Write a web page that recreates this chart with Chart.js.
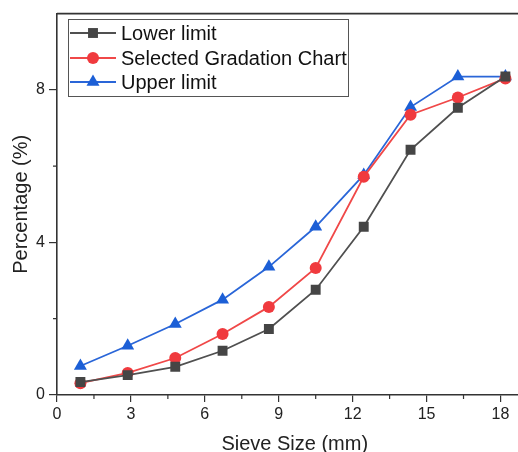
<!DOCTYPE html>
<html>
<head>
<meta charset="utf-8">
<script src="https://cdn.jsdelivr.net/npm/chart.js@4/dist/chart.umd.min.js"></script>
<style>
  html, body { margin: 0; padding: 0; background: #fff; overflow: hidden; }
  #wrap { width: 540px; height: 452px; }
</style>
</head>
<body>
<div id="wrap"><canvas id="gradationChart" width="540" height="452"></canvas></div>
<script>
// Значения
const sieveSizes = [0.95, 2.87, 4.8, 6.72, 8.6, 10.5, 12.45, 14.35, 16.27, 18.2];
const lowerLimit = [0.34, 0.52, 0.74, 1.16, 1.73, 2.76, 4.41, 6.43, 7.53, 8.35];
const selectedGradation = [0.31, 0.58, 0.97, 1.6, 2.31, 3.33, 5.72, 7.35, 7.8, 8.3];
const upperLimit = [0.76, 1.29, 1.86, 2.5, 3.36, 4.41, 5.77, 7.55, 8.35, 8.35];
const xTicks = [0, 3, 6, 9, 12, 15, 18];
const yTicks = [0, 4, 8];

const axisColor = '#333';
const fontFamily = '"Liberation Sans", Arial, sans-serif';

function toPoints(values) {
    return values.map((v, i) => ({ x: sieveSizes[i], y: v }));
}

// Рамка сверху, мелкие деления и легенда
const framePlugin = {
    id: 'frame',
    afterDraw(chart) {
        const { ctx, chartArea, scales } = chart;
        ctx.save();
        ctx.strokeStyle = axisColor;
        ctx.lineWidth = 1.6;
        ctx.beginPath();
        ctx.moveTo(chartArea.left, chartArea.top);
        ctx.lineTo(chartArea.right, chartArea.top);
        ctx.stroke();

        // мелкие деления
        ctx.lineWidth = 1.2;
        ctx.beginPath();
        for (let v = 1.5; v < scales.x.max; v += 3) {
            const px = scales.x.getPixelForValue(v);
            ctx.moveTo(px, chartArea.bottom);
            ctx.lineTo(px, chartArea.bottom + 4);
        }
        for (let v = 2; v < scales.y.max; v += 4) {
            const py = scales.y.getPixelForValue(v);
            ctx.moveTo(chartArea.left, py);
            ctx.lineTo(chartArea.left - 4, py);
        }
        ctx.stroke();

        // легенда
        const box = { x: 68, y: 19, w: 280, h: 77 };
        ctx.lineWidth = 1;
        ctx.strokeStyle = '#555';
        ctx.strokeRect(box.x + 0.5, box.y + 0.5, box.w, box.h);
        const rows = [33, 58, 82];
        chart.data.datasets.forEach((ds, i) => {
            const y = rows[i];
            ctx.strokeStyle = ds.borderColor;
            ctx.lineWidth = ds.borderWidth;
            ctx.beginPath();
            ctx.moveTo(70, y);
            ctx.lineTo(116, y);
            ctx.stroke();
            ctx.fillStyle = ds.backgroundColor;
            Chart.helpers.drawPoint(ctx, {
                pointStyle: ds.pointStyle,
                radius: ds.pointRadius,
                borderWidth: 0
            }, 93, y);
            ctx.fillStyle = '#111';
            ctx.font = '20px ' + fontFamily;
            ctx.textBaseline = 'middle';
            ctx.textAlign = 'left';
            ctx.fillText(ds.label, 121, y + 1);
        });
        ctx.restore();
    }
};

const ctx = document.getElementById('gradationChart');
new Chart(ctx, {
    type: 'scatter',
    data: {
        datasets: [
            {
                label: 'Lower limit',
                data: toPoints(lowerLimit),
                borderColor: '#505050',
                backgroundColor: '#454545',
                pointStyle: 'rect',
                pointRadius: 7,
                borderWidth: 1.8
            },
            {
                label: 'Selected Gradation Chart',
                data: toPoints(selectedGradation),
                borderColor: '#f04848',
                backgroundColor: '#f03a3e',
                pointStyle: 'circle',
                pointRadius: 6,
                borderWidth: 1.8
            },
            {
                label: 'Upper limit',
                data: toPoints(upperLimit),
                borderColor: '#2a66d8',
                backgroundColor: '#1c5fd6',
                pointStyle: 'triangle',
                pointRadius: 7.5,
                borderWidth: 1.8
            }
        ].map(ds => ({ ...ds, showLine: true, pointBorderWidth: 0, pointHoverRadius: ds.pointRadius }))
    },
    options: {
        responsive: false,
        animation: false,
        layout: { padding: { top: 13, right: 7, left: 0, bottom: 0 } },
        plugins: {
            legend: { display: false },
            tooltip: { enabled: false }
        },
        scales: {
            x: {
                type: 'linear',
                min: 0,
                max: 19.3,
                afterBuildTicks: scale => { scale.ticks = xTicks.map(v => ({ value: v })); },
                afterFit: scale => { scale.height = 57; },
                border: { color: axisColor, width: 1.6 },
                grid: { drawOnChartArea: false, drawTicks: true, tickLength: 7, color: axisColor, lineWidth: 1.2 },
                ticks: { color: '#222', font: { family: fontFamily, size: 16 }, padding: 3, maxRotation: 0 },
                title: { display: true, text: 'Sieve Size (mm)', color: '#222', font: { family: fontFamily, size: 20 }, padding: { top: 5, bottom: -4 } }
            },
            y: {
                type: 'linear',
                min: 0,
                max: 10,
                afterBuildTicks: scale => { scale.ticks = yTicks.map(v => ({ value: v })); },
                afterFit: scale => { scale.width = 57; },
                border: { color: axisColor, width: 1.6 },
                grid: { drawOnChartArea: false, drawTicks: true, tickLength: 8, color: axisColor, lineWidth: 1.2 },
                ticks: { color: '#222', font: { family: fontFamily, size: 16 }, padding: 4 },
                title: { display: true, text: 'Percentage (%)', color: '#222', font: { family: fontFamily, size: 20 }, padding: { top: 9, bottom: 0 } }
            }
        }
    },
    plugins: [framePlugin]
});
</script>
</body>
</html>
